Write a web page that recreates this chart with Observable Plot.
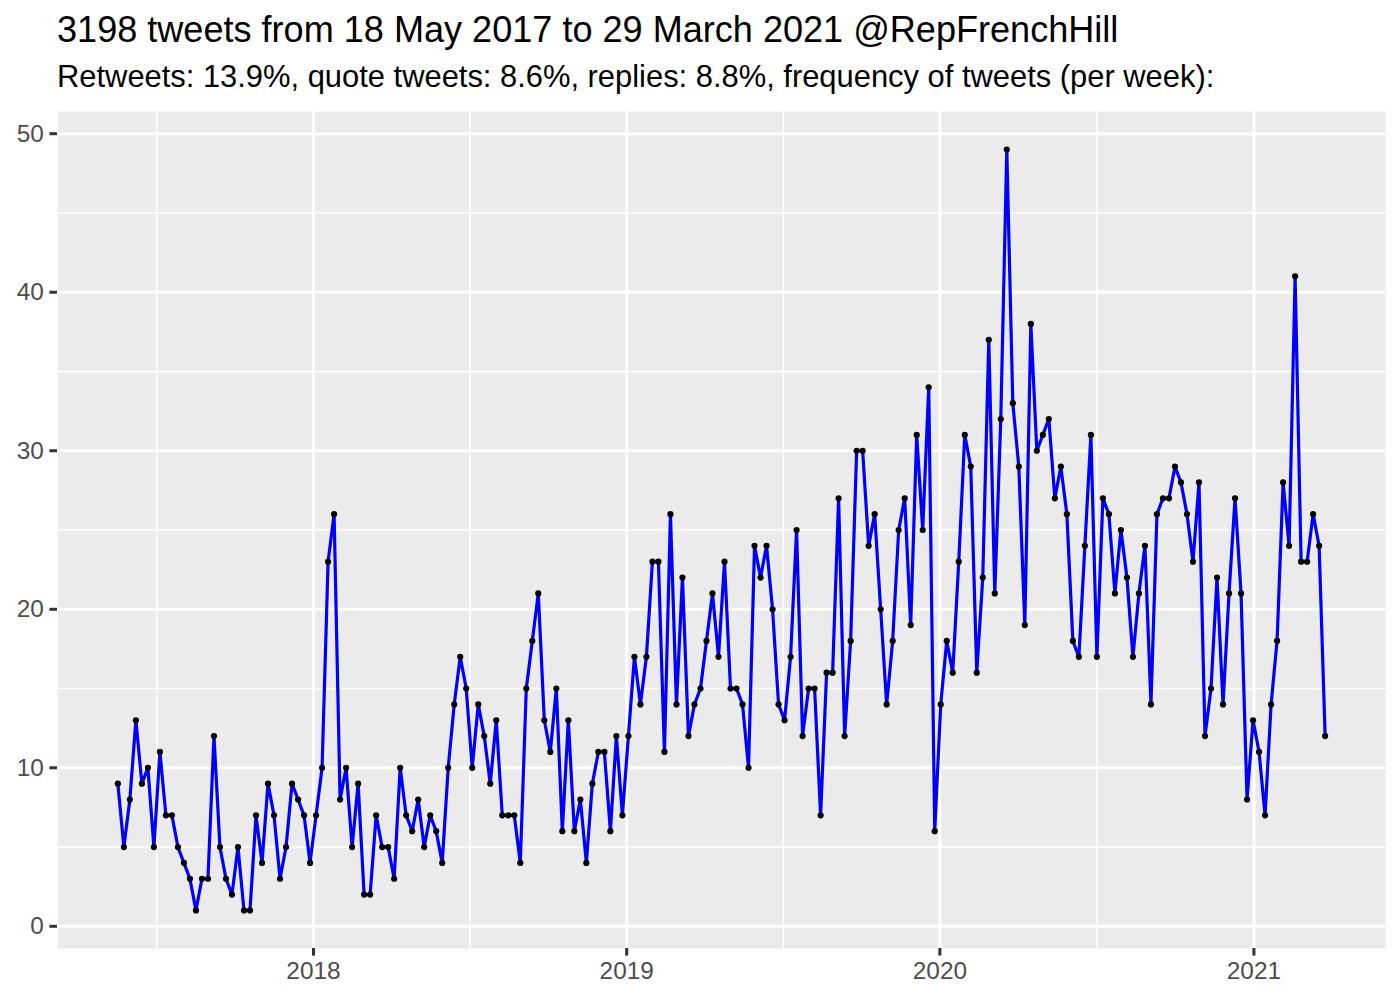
<!DOCTYPE html>
<html>
<head>
<meta charset="utf-8">
<script src="https://cdn.jsdelivr.net/npm/d3@7"></script>
<script src="https://cdn.jsdelivr.net/npm/@observablehq/plot@0.6"></script>
<style>
  html, body { margin: 0; padding: 0; background: #ffffff; }
  #fig { position: relative; width: 1400px; height: 1000px; background: #ffffff;
         font-family: "Liberation Sans", Arial, Helvetica, sans-serif; }
  #title { position: absolute; left: 57px; top: 12px; font-size: 36.1px; line-height: 1; color: #000; white-space: nowrap; }
  #subtitle { position: absolute; left: 57px; top: 62px; font-size: 30.9px; line-height: 1; color: #000; white-space: nowrap; }
  #chart { position: absolute; left: 0; top: 100px; }
</style>
</head>
<body>
<div id="fig">
  <div id="title">3198 tweets from 18 May 2017 to 29 March 2021 @RepFrenchHill</div>
  <div id="subtitle">Retweets: 13.9%, quote tweets: 8.6%, replies: 8.8%, frequency of tweets (per week):</div>
  <div id="chart"></div>
</div>
<script>
// ---- data ----
const firstWeek = "2017-05-18";
const weeklyTweets = [
  9,5,8,13,9,10,5,11,7,7,
  5,4,3,1,3,3,12,5,3,2,
  5,1,1,7,4,9,7,3,5,9,
  8,7,4,7,10,23,26,8,10,5,
  9,2,2,7,5,5,3,10,7,6,
  8,5,7,6,4,10,14,17,15,10,
  14,12,9,13,7,7,7,4,15,18,
  21,13,11,15,6,13,6,8,4,9,
  11,11,6,12,7,12,17,14,17,23,
  23,11,26,14,22,12,14,15,18,21,
  17,23,15,15,14,10,24,22,24,20,
  14,13,17,25,12,15,15,7,16,16,
  27,12,18,30,30,24,26,20,14,18,
  25,27,19,31,25,34,6,14,18,16,
  23,31,29,16,22,37,21,32,49,33,
  29,19,38,30,31,32,27,29,26,18,
  17,24,31,17,27,26,21,25,22,17,
  21,24,14,26,27,27,29,28,26,23,
  28,12,15,22,14,21,27,21,8,13,
  11,7,14,18,28,24,41,23,23,26,
  24,12
];
const yearTicks = [2018, 2019, 2020, 2021];
const yTicks = [0, 10, 20, 30, 40, 50];
const yMinor = [5, 15, 25, 35, 45];

// ---- build table ----
const start = new Date(firstWeek + "T00:00:00Z");
const data = weeklyTweets.map((n, i) => ({date: d3.utcDay.offset(start, 7 * i), n}));

const xMin = data[0].date, xMax = data[data.length - 1].date;
const xPad = (xMax - xMin) * 0.05;
const xDomain = [new Date(+xMin - xPad), new Date(+xMax + xPad)];
const yLo = d3.min(weeklyTweets), yHi = d3.max(weeklyTweets);
const yPad = (yHi - yLo) * 0.05;
const yDomain = [yLo - yPad, yHi + yPad];

const yearDates = yearTicks.map(y => new Date(Date.UTC(y, 0, 1)));
const allYears = [yearTicks[0] - 1, ...yearTicks, yearTicks[yearTicks.length - 1] + 1]
  .map(y => new Date(Date.UTC(y, 0, 1)));
const xMinor = d3.pairs(allYears, (a, b) => new Date((+a + +b) / 2))
  .filter(d => d >= xDomain[0] && d <= xDomain[1]);

const chart = Plot.plot({
  width: 1400,
  height: 900,
  marginLeft: 57,
  marginRight: 15,
  marginTop: 11,
  marginBottom: 52,
  x: {type: "utc", domain: xDomain},
  y: {domain: yDomain},
  style: {fontFamily: "Liberation Sans, Arial, Helvetica, sans-serif", fontSize: "24.4px", background: "#ffffff", overflow: "visible"},
  marks: [
    Plot.frame({fill: "#EBEBEB", stroke: "none"}),
    Plot.ruleY(yMinor, {stroke: "#ffffff", strokeWidth: 1.5}),
    Plot.ruleX(xMinor, {stroke: "#ffffff", strokeWidth: 1.5}),
    Plot.ruleY(yTicks, {stroke: "#ffffff", strokeWidth: 3}),
    Plot.ruleX(yearDates, {stroke: "#ffffff", strokeWidth: 3}),
    Plot.axisY(yTicks, {tickSize: 7.6, tickPadding: 6, stroke: "#333333", strokeWidth: 3, fill: "#4D4D4D", label: null, tickFormat: d => String(d)}),
    Plot.axisX(yearDates, {tickSize: 7.6, tickPadding: 6, stroke: "#333333", strokeWidth: 3, fill: "#4D4D4D", label: null, tickFormat: d3.utcFormat("%Y")}),
    Plot.line(data, {x: "date", y: "n", stroke: "#0000FF", strokeWidth: 3.2, strokeLinejoin: "round", strokeLinecap: "butt"}),
    Plot.dot(data, {x: "date", y: "n", r: 3.1, fill: "#000000", stroke: "none"})
  ]
});
document.getElementById("chart").appendChild(chart);
</script>
</body>
</html>
